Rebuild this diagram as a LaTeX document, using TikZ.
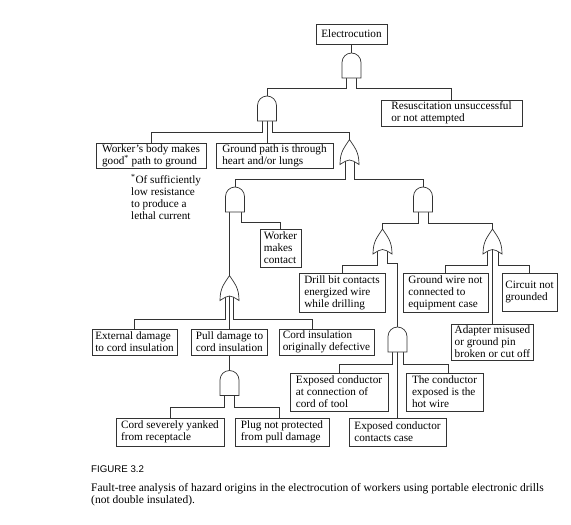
\documentclass[tikz,border=0pt]{standalone}
\usepackage{fontspec}
\setmainfont{Liberation Serif}
\newfontfamily\capfont{Liberation Sans}
\usetikzlibrary{positioning,calc}
% leg of a gate: start x-offset, drop below gate, then across to the input
\newcommand{\gateleg}[4]{\draw[wire] ([xshift=#2pt]#1.center) -- ([xshift=#2pt,yshift=-#3pt]#1.south) -| (#4);}

\begin{document}
\begin{tikzpicture}[
  x=1pt, y=1pt,
  font=\fontsize{11.2}{12}\selectfont,
  event/.style   ={draw=black!80, line width=0.7pt, align=left, inner xsep=3pt, inner ysep=1.5pt},
  sz/.style 2 args={minimum width=#1pt, minimum height=#2pt},
  gatenode/.style={minimum width=19pt, minimum height=25pt, inner sep=0pt, outer sep=0pt},
  gate/.style    ={draw=black!80, fill=white, line width=0.7pt},
  wire/.style    ={draw=black!80, line width=0.7pt}
]
\useasboundingbox (0,0) rectangle (571,-525);

% --- events ---
\node[event, sz={71}{20}]  (elec)    at (351.5,-34)  {Electrocution};
\node[event, sz={141}{26}] (resus)   at (451.5,-113) {Resuscitation unsuccessful\\or not attempted};
\node[event, sz={110}{25}] (body)    at (151,-155.5) {Worker’s body makes\\good\textsuperscript{*} path to ground};
\node[event, sz={117}{25}] (gpath)   at (274.5,-155.5) {Ground path is through\\heart and/or lungs};
\node[event, sz={41}{38}]  (contact) at (280.5,-248) {Worker\\makes\\contact};
\node[event, sz={86}{39}]  (drill)   at (342,-292.5) {Drill bit contacts\\energized wire\\while drilling};
\node[event, sz={85}{39}]  (gwire)   at (445.5,-292.5) {Ground wire not\\connected to\\equipment case};
\node[event, sz={55}{38}]  (circ)    at (529.5,-292) {Circuit not\\grounded};
\node[event, sz={82}{36}]  (adapter) at (492.5,-342) {Adapter misused\\or ground pin\\broken or cut off};
\node[event, sz={85}{26}]  (ext)     at (134.5,-342) {External damage\\to cord insulation};
\node[event, sz={76}{26}]  (pull)    at (229.5,-342) {Pull damage to\\cord insulation};
\node[event, sz={95}{26}]  (cordins) at (326.5,-342) {Cord insulation\\originally defective};
\node[event, sz={98}{38}]  (expconn) at (339,-392)   {Exposed conductor\\at connection of\\cord of tool};
\node[event, sz={77}{38}]  (hotw)    at (444.5,-392) {The conductor\\exposed is the\\hot wire};
\node[event, sz={108}{28}] (yank)    at (170,-432)   {Cord severely yanked\\from receptacle};
\node[event, sz={94}{28}]  (plug)    at (282,-432)   {Plug not protected\\from pull damage};
\node[event, sz={97}{28}]  (case)    at (397.5,-432) {Exposed conductor\\contacts case};

\node[align=left, anchor=north west, inner sep=0pt] (foot) at (131,-174)
  {\textsuperscript{*}Of sufficiently\\low resistance\\to produce a\\lethal current};

% --- gates ---
\node[gatenode] (g1)  at (351.5,-65.5) {};
\node[gatenode] (g2)  at (267,-108.5)  {};
\node[gatenode] (g3)  at (349.5,-152)  {};
\node[gatenode] (g4)  at (235,-199.5)  {};
\node[gatenode] (g5)  at (423,-199.5)  {};
\node[gatenode] (g6)  at (382.5,-241.5) {};
\node[gatenode] (g7)  at (492.5,-241.5) {};
\node[gatenode] (g8)  at (397.5,-339.5) {};
\node[gatenode] (g9)  at (229.5,-288)  {};
\node[gatenode] (g10) at (229.5,-383)  {};

% --- connectors ---
\draw[wire] (elec) -- (g1);
\gateleg{g1}{-5}{10}{g2.north}
\gateleg{g1}{5}{10}{resus.north}
\gateleg{g2}{-5}{11}{body.north}
\draw[wire] (g2.center) -- (g2.center |- gpath.north);
\gateleg{g2}{5}{11}{g3.north}
\gateleg{g3}{-4.5}{14.5}{g4.north}
\gateleg{g3}{4.5}{14.5}{g5.north}
\draw[wire] ([xshift=-5.5pt]g4.center) -- (g9.north);
\gateleg{g4}{6}{10}{contact.north}
\gateleg{g5}{-5}{11}{g6.north}
\gateleg{g5}{5}{11}{g7.north}
\gateleg{g6}{-5}{11}{drill.north}
\gateleg{g6}{5}{9}{g8.north}
\gateleg{g7}{-5.5}{11}{gwire.north}
\draw[wire] (g7.center) -- (adapter.north);
\gateleg{g7}{5.5}{11}{circ.north}
\gateleg{g9}{-4}{18.5}{ext.north}
\draw[wire] (g9.center) -- (pull.north);
\gateleg{g9}{4}{18.5}{[xshift=-14pt]cordins.north}
\draw[wire] (pull) -- (g10);
\gateleg{g10}{-5}{11.5}{yank.north}
\gateleg{g10}{5}{11.5}{[xshift=-3pt]plug.north}
\gateleg{g8}{-5.5}{12}{expconn.north}
\draw[wire] (g8.center) -- (case.north);
\gateleg{g8}{5.5}{12}{[xshift=3.5pt]hotw.north}

% --- gate outlines (AND, then OR) ---
\foreach \g in {g1,g2,g4,g5,g8,g10}
  \draw[gate] (\g.south west) -- ++(0,15.5) arc[start angle=180, end angle=0, radius=9.5]
    -- (\g.south east) -- cycle;
\foreach \g in {g3,g6,g7,g9}
  \draw[gate] (\g.south west)
    .. controls ($(\g.south west)+(0,13)$) and ($(\g.north)+(-5,-8)$) .. (\g.north)
    .. controls ($(\g.north)+(5,-8)$) and ($(\g.south east)+(0,13)$) .. (\g.south east)
    .. controls ($(\g.south)+(0,6)$) .. (\g.south west) -- cycle;

% --- caption ---
\node[anchor=north west, inner sep=0pt, font=\capfont\fontsize{9.7}{11}\selectfont] (fig) at (91,-466) {FIGURE 3.2};
\node[anchor=north west, inner sep=0pt, align=left, font=\fontsize{11.5}{12}\selectfont] (cap) at (91,-483)
  {Fault-tree analysis of hazard origins in the electrocution of workers using portable electronic drills\\(not double insulated).};
\end{tikzpicture}
\end{document}
